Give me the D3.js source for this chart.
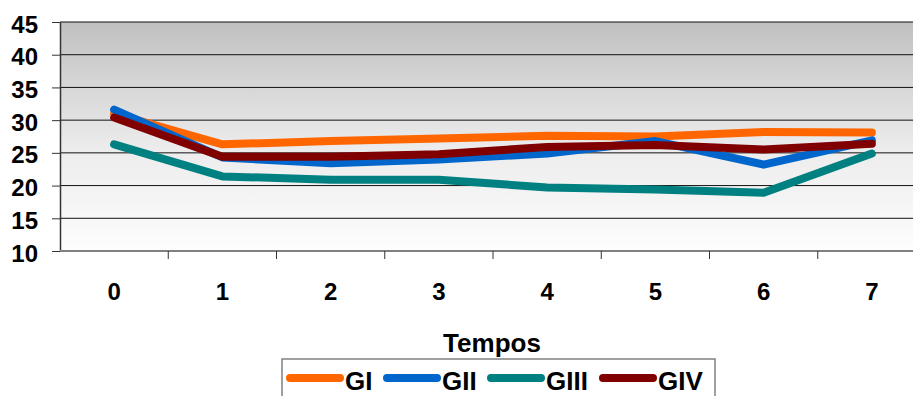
<!DOCTYPE html>
<html>
<head>
<meta charset="utf-8">
<script src="https://cdn.jsdelivr.net/npm/d3@7"></script>
<style>
  body { margin: 0; background: #fff; overflow: hidden; }
  text { font-family: "Liberation Sans", Arial, sans-serif; font-weight: bold; fill: #000; }
</style>
</head>
<body>
<svg id="chart" width="913" height="396"></svg>
<script>
// Data
const tempos = ['0', '1', '2', '3', '4', '5', '6', '7'];
const gI   = [31.0, 26.3, 26.8, 27.2, 27.6, 27.5, 28.2, 28.1];
const gII  = [31.6, 24.3, 23.4, 24.0, 24.9, 26.8, 23.2, 26.9];
const gIII = [26.3, 21.4, 20.9, 20.9, 19.7, 19.4, 18.9, 24.9];
const gIV  = [30.4, 24.4, 24.4, 24.8, 25.9, 26.2, 25.5, 26.4];
const yTicks = [10, 15, 20, 25, 30, 35, 40, 45];

const series = [
  {name: 'GI',   values: gI,   color: '#ff6600'},
  {name: 'GII',  values: gII,  color: '#0066cc'},
  {name: 'GIII', values: gIII, color: '#008080'},
  {name: 'GIV',  values: gIV,  color: '#800000'}
];

const svg = d3.select('#chart');
const plot = {left: 60, top: 22, right: 926, bottom: 251};
const labelFont = '"Liberation Sans", Arial, sans-serif';

const x = d3.scaleBand().domain(tempos).range([plot.left, plot.right]);
const y = d3.scaleLinear().domain([10, 45]).range([plot.bottom, plot.top]);

// Background gradient
const grad = svg.append('defs').append('linearGradient')
    .attr('id', 'bg').attr('x1', 0).attr('y1', 0).attr('x2', 0).attr('y2', 1);
grad.append('stop').attr('offset', '0%').attr('stop-color', '#c0c0c0');
grad.append('stop').attr('offset', '55%').attr('stop-color', '#ececec');
grad.append('stop').attr('offset', '100%').attr('stop-color', '#fdfdfd');

svg.append('rect')
    .attr('x', plot.left).attr('y', plot.top)
    .attr('width', plot.right - plot.left).attr('height', plot.bottom - plot.top)
    .attr('fill', 'url(#bg)');

// Gridlines
svg.append('g').selectAll('line')
    .data(yTicks.filter(d => d > 10))
  .join('line')
    .attr('x1', plot.left).attr('x2', plot.right)
    .attr('y1', d => y(d)).attr('y2', d => y(d))
    .attr('stroke', '#111').attr('stroke-width', 1);

// Y axis
const yAxisG = svg.append('g')
    .attr('transform', `translate(${plot.left},0)`)
    .call(d3.axisLeft(y).tickValues(yTicks).tickSize(8).tickPadding(14).tickSizeOuter(0));
yAxisG.select('.domain').attr('stroke', '#333').attr('stroke-width', 1.5);
yAxisG.selectAll('.tick line').attr('stroke', '#333');
yAxisG.selectAll('.tick text')
    .attr('dy', '0.42em')
    .style('font-size', '24px').style('font-family', labelFont)
    .style('font-weight', 'bold').attr('fill', '#000');

// X axis line and category separator ticks
svg.append('line')
    .attr('x1', plot.left).attr('x2', plot.right)
    .attr('y1', plot.bottom).attr('y2', plot.bottom)
    .attr('stroke', '#808080').attr('stroke-width', 2);
svg.append('g').selectAll('line')
    .data(tempos.slice(1))
  .join('line')
    .attr('x1', d => x(d)).attr('x2', d => x(d))
    .attr('y1', plot.bottom).attr('y2', plot.bottom + 8)
    .attr('stroke', '#333');

const xAxisG = svg.append('g')
    .attr('transform', `translate(0,${plot.bottom})`)
    .call(d3.axisBottom(x).tickSize(0).tickPadding(32));
xAxisG.select('.domain').remove();
xAxisG.selectAll('.tick text')
    .style('font-size', '24px').style('font-family', labelFont)
    .style('font-weight', 'bold').attr('fill', '#000');

// Axis title
svg.append('text')
    .attr('x', 492).attr('y', 352)
    .attr('text-anchor', 'middle')
    .style('font-size', '26px')
    .text('Tempos');

// Lines
const line = d3.line()
    .x((d, i) => x(tempos[i]) + x.bandwidth() / 2)
    .y(d => y(d));

svg.append('g').selectAll('path')
    .data(series)
  .join('path')
    .attr('d', d => line(d.values))
    .attr('fill', 'none')
    .attr('stroke', d => d.color)
    .attr('stroke-width', 8)
    .attr('stroke-linejoin', 'round')
    .attr('stroke-linecap', 'round');

// Legend
const legend = svg.append('g');
legend.append('rect')
    .attr('x', 282).attr('y', 359).attr('width', 433).attr('height', 45)
    .attr('fill', '#fff').attr('stroke', '#808080').attr('stroke-width', 1.5);

const legendX = [288, 385, 489, 601];
const item = legend.selectAll('g.item')
    .data(series)
  .join('g')
    .attr('class', 'item')
    .attr('transform', (d, i) => `translate(${legendX[i]},378)`);
item.append('line')
    .attr('x1', 2).attr('x2', 52).attr('y1', 0).attr('y2', 0)
    .attr('stroke', d => d.color).attr('stroke-width', 8).attr('stroke-linecap', 'round');
item.append('text')
    .attr('x', 57).attr('y', 12)
    .style('font-size', '26px')
    .text(d => d.name);
</script>
</body>
</html>
